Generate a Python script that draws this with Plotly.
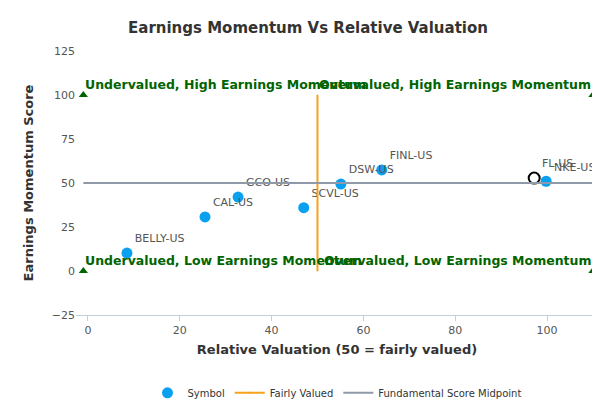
import plotly.graph_objects as go

# symbols
sym = ["BELLY-US", "CAL-US", "GCO-US", "SCVL-US", "DSW-US", "FINL-US", "NKE-US"]
val = [8.5, 25.5, 32.7, 47.0, 55.1, 64.0, 99.8]
mom = [10.2, 30.7, 42.0, 36.0, 49.4, 57.4, 51.0]
fl_x, fl_y = [97.2], [52.8]
# quadrant corners
cx = [-1, -1, 110, 110]
cy = [100, 0, 100, 0]
green = "#006400"

fig = go.Figure()
fig.add_trace(go.Scatter(x=val, y=mom, mode="markers+text", text=sym, textposition="top right",
                         textfont=dict(size=11, color="#555"), name="Symbol",
                         marker=dict(color="#0aa0f0", size=11)))
fig.add_trace(go.Scatter(x=fl_x, y=fl_y, mode="markers+text", text=["FL-US"], textposition="top right",
                         textfont=dict(size=11, color="#555"), showlegend=False,
                         marker=dict(color="white", size=11, line=dict(color="black", width=2))))
fig.add_trace(go.Scatter(x=[50, 50], y=[0, 100], mode="lines+markers", name="Fairly Valued",
                         line=dict(color="#f7a21b", width=2), marker=dict(symbol="diamond", size=1)))
fig.add_trace(go.Scatter(x=[-1, 110], y=[50, 50], mode="lines", name="Fundamental Score Midpoint",
                         line=dict(color="#9099a8", width=2)))
fig.add_trace(go.Scatter(x=cx, y=cy, mode="markers", showlegend=False, hoverinfo="skip", cliponaxis=False,
                         marker=dict(symbol="triangle-up", color=green, size=8)))

for t, x, y, xa in [("Undervalued, High Earnings Momentum", -1, 100, "left"),
                    ("Overvalued, High Earnings Momentum", 110, 100, "right"),
                    ("Undervalued, Low Earnings Momentum", -1, 0, "left"),
                    ("Overvalued, Low Earnings Momentum", 110, 0, "right")]:
    fig.add_annotation(x=x, y=y, text="<b>" + t + "</b>", showarrow=False, xanchor=xa,
                       yanchor="bottom", yshift=1, font=dict(size=12.5, color=green))

fig.add_annotation(x=1.03, y=-0.37, xref="paper", yref="paper", text="www.capitalcube.com",
                   showarrow=False, xanchor="right", font=dict(size=9, color="#888"))

fig.update_layout(
    width=600, height=400, plot_bgcolor="white", paper_bgcolor="white",
    font=dict(family="DejaVu Sans", color="#333"),
    title=dict(text="<b>Earnings Momentum Vs Relative Valuation</b>", x=0.5, y=0.965,
               font=dict(size=15, color="#333")),
    margin=dict(l=68, r=10, t=43, b=93, autoexpand=False),
    xaxis=dict(range=[-2.6, 111.1], tickvals=[0, 20, 40, 60, 80, 100], showgrid=False, zeroline=False,
               showline=True, linecolor="#c0d0e0", ticks="outside", tickcolor="#c0d0e0",
               tickfont=dict(size=11, color="#555"), automargin=False,
               title=dict(text="<b>Relative Valuation (50 = fairly valued)</b>", font=dict(size=13), standoff=8)),
    yaxis=dict(range=[-25, 125], tickvals=[-25, 0, 25, 50, 75, 100, 125], showgrid=False, zeroline=False,
               tickfont=dict(size=11, color="#555"), automargin=False,
               title=dict(text="<b>Earnings Momentum Score</b>", font=dict(size=13))),
    legend=dict(orientation="h", x=0.5, xanchor="center", y=-0.24, font=dict(size=10)),
)
fig.write_html("out.html")
